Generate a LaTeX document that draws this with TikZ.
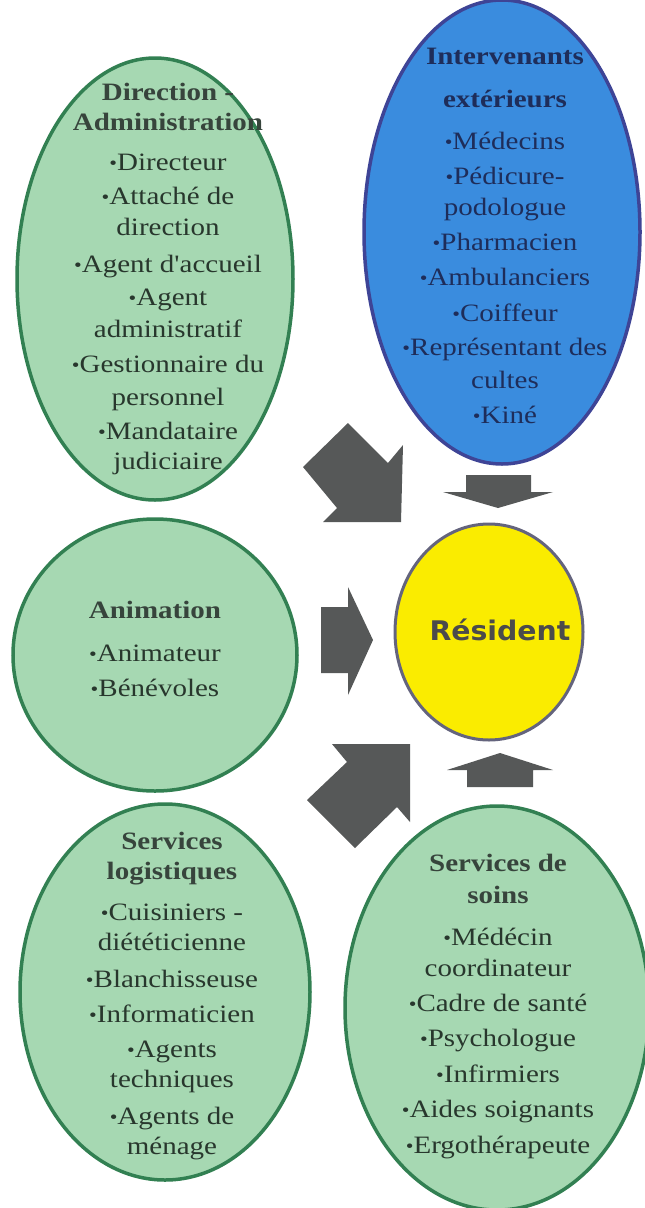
\documentclass[tikz,border=0pt]{standalone}
\usepackage{fontspec}
\setmainfont{Liberation Serif}
\newfontfamily\elf[FakeStretch=1.16]{Liberation Serif}
\newfontfamily\resf[FakeStretch=1.05]{DejaVu Sans}
\usetikzlibrary{shapes.geometric}
\definecolor{gfill}{RGB}{166,216,178}
\definecolor{gline}{RGB}{50,128,82}
\definecolor{bfill}{RGB}{58,140,222}
\definecolor{bline}{RGB}{62,68,150}
\definecolor{yfill}{RGB}{250,236,0}
\definecolor{yline}{RGB}{100,100,125}
\definecolor{afill}{RGB}{86,88,88}
\definecolor{gtext}{RGB}{40,55,45}
\definecolor{ttext}{RGB}{55,68,60}
\definecolor{btext}{RGB}{30,45,90}
\definecolor{rtext}{RGB}{75,75,75}
\newcommand\bu{{\fontsize{19}{19}\selectfont\raisebox{0.5pt}{•}}}
\tikzset{
  gell/.style={ellipse, draw=gline, fill=gfill, line width=3.5pt, inner sep=0pt},
  bell/.style={ellipse, draw=bline, fill=bfill, line width=3.5pt, inner sep=0pt},
  yell/.style={ellipse, draw=yline, fill=yfill, line width=3pt, inner sep=0pt},
  txt/.style={anchor=base, inner sep=0pt, font=\elf\fontsize{25}{30}\selectfont, text=gtext},
  ttl/.style={txt, font=\elf\bfseries\fontsize{25}{30}\selectfont, text=ttext},
  btxt/.style={txt, text=btext},
  bttl/.style={ttl, text=btext},
  blockarrow/.style={fill=afill, draw=none},
}
\begin{document}
\begin{tikzpicture}[x=1pt,y=-1pt]
\fill[white] (0,0) rectangle (645,1208);
\useasboundingbox (0,0) rectangle (645,1208);

% ellipses
\node[gell, minimum width=276pt, minimum height=442pt] (dir) at (155,279) {};
\node[bell, minimum width=276pt, minimum height=464pt] (ext) at (502,232) {};
\node[gell, minimum width=284pt, minimum height=272pt] (anim) at (155,655) {};
\node[yell, minimum width=188pt, minimum height=216pt] (res) at (489,632) {};
\node[gell, minimum width=290pt, minimum height=376pt] (log) at (165,992) {};
\node[gell, minimum width=304pt, minimum height=404pt] (soins) at (497,1008) {};

% Direction - Administration
\node[ttl] (dirt1) at (168,100) {Direction -};
\node[ttl] (dirt2) at (168,130) {Administration};
\foreach \y/\t [count=\i] in {170/{\bu Directeur}, 204/{\bu Attaché de}, 235/{direction},
  272/{\bu Agent d'accueil}, 305/{\bu Agent}, 337/{administratif},
  372/{\bu Gestionnaire du}, 405/{personnel}, 439/{\bu Mandataire}, 469/{judiciaire}}
  \node[txt] (dirl\i) at (168,\y) {\t};

% Intervenants exterieurs
\node[bttl] (extt1) at (505,64) {Intervenants};
\node[bttl] (extt2) at (505,107) {extérieurs};
\foreach \y/\t [count=\i] in {149/{\bu Médecins}, 184/{\bu Pédicure-}, 215/{podologue},
  250/{\bu Pharmacien}, 285/{\bu Ambulanciers}, 321/{\bu Coiffeur},
  355/{\bu Représentant des}, 388/{cultes}, 423/{\bu Kiné}}
  \node[btxt] (extl\i) at (505,\y) {\t};

% Animation
\node[ttl] (animt) at (155,618) {Animation};
\node[txt] (animl1) at (155,661) {\bu Animateur};
\node[txt] (animl2) at (155,696) {\bu Bénévoles};

% Resident
\node[font=\resf\bfseries\fontsize{27}{30}\selectfont, text=rtext, inner sep=0pt] (rest) at (500,630) {Résident};

% Services logistiques
\node[ttl] (logt1) at (172,849) {Services};
\node[ttl] (logt2) at (172,879) {logistiques};
\foreach \y/\t [count=\i] in {920/{\bu Cuisiniers -}, 950/{diététicienne}, 987/{\bu Blanchisseuse},
  1022/{\bu Informaticien}, 1057/{\bu Agents}, 1087/{techniques},
  1124/{\bu Agents de}, 1154/{ménage}}
  \node[txt] (logl\i) at (172,\y) {\t};

% Services de soins
\node[ttl] (soint1) at (498,871) {Services de};
\node[ttl] (soint2) at (498,903) {soins};
\foreach \y/\t [count=\i] in {945/{\bu Médécin}, 976/{coordinateur}, 1011/{\bu Cadre de santé},
  1046/{\bu Psychologue}, 1082/{\bu Infirmiers}, 1117/{\bu Aides soignants},
  1153/{\bu Ergothérapeute}}
  \node[txt] (soinl\i) at (498,\y) {\t};

% block arrows
\fill[blockarrow] (303,467) -- (348,423) -- (388,463) -- (403,445) -- (401,522) -- (323,522) -- (337,508) -- cycle;
\fill[blockarrow] (466,475) -- (531,475) -- (531,492) -- (553,492) -- (498,508) -- (443,492) -- (466,492) -- cycle;
\fill[blockarrow] (321,607) -- (348,607) -- (348,587) -- (373,640) -- (348,695) -- (348,673) -- (321,673) -- cycle;
\fill[blockarrow] (467,787) -- (467,770) -- (447,770) -- (500,753) -- (553,770) -- (533,770) -- (533,787) -- cycle;
\fill[blockarrow] (355,848) -- (307,800) -- (347,762) -- (332,744) -- (410,744) -- (410,822) -- (397,807) -- cycle;
\end{tikzpicture}
\end{document}
